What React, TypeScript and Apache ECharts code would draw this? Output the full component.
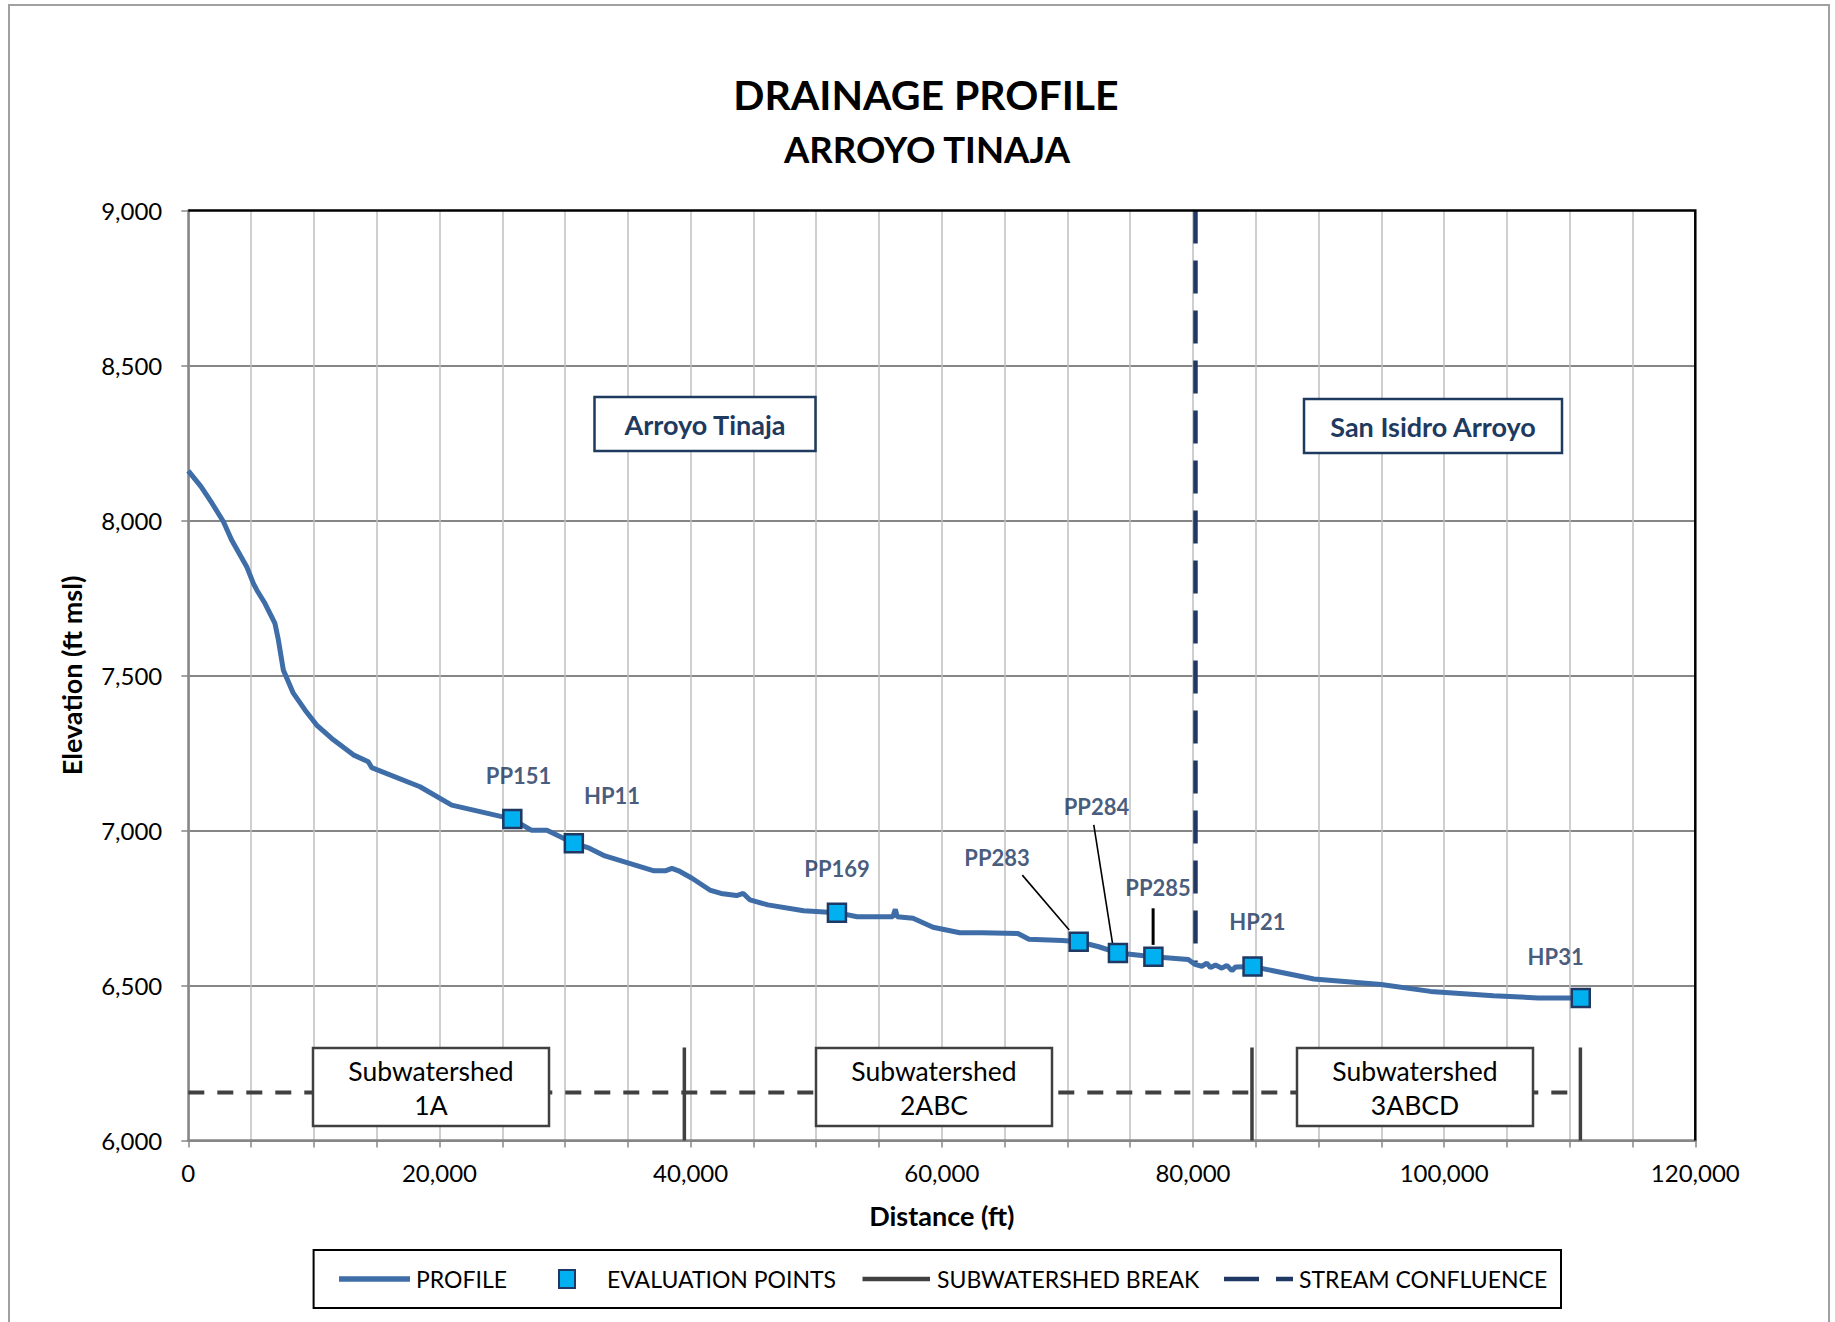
import React, { useEffect, useRef } from "react";
import * as echarts from "echarts";

// Profile (distance ft, elevation ft msl)
const profileDistance = [
  0, 1000, 1900, 2800, 3450, 4650, 5180, 5450, 6100, 6900, 7170, 7565, 8360, 9290, 10220, 11420,
  13140, 14330, 14600, 18450, 20975, 25800, 27310, 28555, 30700, 31930, 33175, 35130, 37085, 37975,
  38510, 39040, 40110, 41527, 42420, 43660, 44195, 44730, 46153, 48995, 51650, 53257, 56100, 56300,
  56450, 57710, 59300, 61435, 63200, 66060, 66945, 69612, 70900, 72500, 74025, 76850, 79630, 80165,
  80700, 81100, 81400, 81800, 82300, 82700, 83100, 83400, 84745, 89630, 94990, 98915, 103920, 107490,
  110880,
];
const profileElevation = [
  8160, 8110, 8055, 7996, 7937, 7851, 7797, 7776, 7733, 7668, 7615, 7518, 7443, 7389, 7340, 7297,
  7244, 7222, 7203, 7141, 7082, 7037, 7001, 7001, 6959, 6943, 6918, 6894, 6870, 6870,
  6878, 6870, 6846, 6808, 6797, 6790, 6797, 6776, 6760, 6741, 6735, 6722, 6722, 6746,
  6722, 6717, 6688, 6670, 6670, 6668, 6649, 6645, 6641, 6625, 6605, 6593, 6584, 6568,
  6562, 6572, 6558, 6566, 6556, 6565, 6548, 6560, 6561, 6521, 6503, 6481, 6467, 6460,
  6460,
];

// Evaluation points
const pointNames = ["PP151", "HP11", "PP169", "PP283", "PP284", "PP285", "HP21", "HP31"];
const pointDistance = [25800, 30700, 51650, 70900, 74025, 76850, 84745, 110880];
const pointElevation = [7037, 6959, 6735, 6641, 6605, 6593, 6561, 6460];

// Label anchor positions (data units)
const labelDistance = [26294, 33739, 51656, 64397, 72312, 77218, 85132, 108878];
const labelElevation = [7177, 7112, 6878, 6913, 7079, 6817, 6708, 6592];

// Leader lines [from distance, from elev, to distance, to elev]
const leaderLines = [
  [66411, 6856, 70144, 6679],
  [72101, 7018, 73595, 6636],
];
const leaderLineThick = [[76827, 6749, 76827, 6631]];

// Subwatershed breaks
const breakDistance = [39500, 84700, 110850];
const breakRange = [6000, 6300];
const subwatershedLine = { from: 0, to: 110000, elevation: 6155 };

// Stream confluence
const confluenceDistance = 80200;
const confluenceRange = [9000, 6575];

// Axes
const xMin = 0, xMax = 120000, xStep = 5000, xLabelStep = 20000;
const yMin = 6000, yMax = 9000, yStep = 500;

const legendNames = ["PROFILE", "EVALUATION POINTS", "SUBWATERSHED BREAK", "STREAM CONFLUENCE"];

const FONT = "Lato";
const NAVY = "#1F3A5F";
const LABEL_NAVY = "#17325A";
const PROFILE_COLOR = "#3E6DA8";

export default function App() {
  const ref = useRef<HTMLDivElement>(null);
  useEffect(() => {
    if (!ref.current) return;
    const chart = echarts.init(ref.current, undefined, { renderer: "svg" });

    const series: any[] = [];
    series.push({
      name: "subwatershed-line",
      type: "line",
      silent: true,
      symbol: "none",
      z: 2,
      data: [
        [subwatershedLine.from, subwatershedLine.elevation],
        [subwatershedLine.to, subwatershedLine.elevation],
      ],
      lineStyle: { color: "#404040", width: 4, type: [16, 13] },
    });
    breakDistance.forEach((d) => {
      series.push({
        name: "SUBWATERSHED BREAK",
        type: "line",
        silent: true,
        symbol: "none",
        z: 3,
        data: [
          [d, breakRange[0]],
          [d, breakRange[1]],
        ],
        lineStyle: { color: "#404040", width: 3.5 },
        itemStyle: { color: "#404040" },
      });
    });
    series.push({
      name: "STREAM CONFLUENCE",
      type: "line",
      silent: true,
      symbol: "none",
      z: 3,
      data: [
        [confluenceDistance, confluenceRange[0]],
        [confluenceDistance, confluenceRange[1]],
      ],
      lineStyle: { color: "#1F3864", width: 4.5, type: [33, 17] },
      itemStyle: { color: "#1F3864" },
    });
    series.push({
      name: "PROFILE",
      type: "line",
      silent: true,
      symbol: "none",
      z: 4,
      data: profileDistance.map((d, i) => [d, profileElevation[i]]),
      lineStyle: { color: PROFILE_COLOR, width: 5 },
      itemStyle: { color: PROFILE_COLOR },
    });
    leaderLines.forEach((l, i) => {
      series.push({
        name: "leader" + i,
        type: "line",
        silent: true,
        symbol: "none",
        z: 4,
        data: [
          [l[0], l[1]],
          [l[2], l[3]],
        ],
        lineStyle: { color: "#000", width: 1.6 },
      });
    });
    leaderLineThick.forEach((l, i) => {
      series.push({
        name: "leaderThick" + i,
        type: "line",
        silent: true,
        symbol: "none",
        z: 4,
        data: [
          [l[0], l[1]],
          [l[2], l[3]],
        ],
        lineStyle: { color: "#000", width: 3 },
      });
    });
    series.push({
      name: "EVALUATION POINTS",
      type: "scatter",
      silent: true,
      symbol: "rect",
      symbolSize: 18,
      z: 6,
      data: pointDistance.map((d, i) => [d, pointElevation[i]]),
      itemStyle: { color: "#00B0F0", borderColor: "#1F3864", borderWidth: 2.5, opacity: 1 },
    });
    series.push({
      name: "point-labels",
      type: "scatter",
      silent: true,
      symbolSize: 1,
      z: 7,
      itemStyle: { color: "rgba(0,0,0,0)" },
      data: labelDistance.map((d, i) => ({ value: [d, labelElevation[i]], name: pointNames[i] })),
      label: {
        show: true,
        position: "inside",
        formatter: (p: any) => p.name,
        color: LABEL_NAVY,
        fontFamily: FONT,
        fontWeight: "bold",
        fontSize: 22,
      },
    });

    const boxes = [
      { x: 313, y: 1048, w: 236, h: 78, text: "Subwatershed\n1A" },
      { x: 816, y: 1048, w: 236, h: 78, text: "Subwatershed\n2ABC" },
      { x: 1297, y: 1048, w: 236, h: 78, text: "Subwatershed\n3ABCD" },
    ];
    const riverBoxes = [
      { x: 594.5, y: 397, w: 221, h: 54, text: "Arroyo Tinaja" },
      { x: 1304, y: 399, w: 258, h: 54, text: "San Isidro Arroyo" },
    ];

    const graphic: any[] = [
      {
        type: "rect",
        z: 0,
        silent: true,
        shape: { x: 9, y: 5, width: 1820, height: 1340 },
        style: { fill: "none", stroke: "#A0A0A0", lineWidth: 2 },
      },
      {
        type: "text",
        z: 100,
        style: {
          text: "DRAINAGE PROFILE",
          x: 926,
          y: 94,
          textAlign: "center",
          textVerticalAlign: "middle",
          fontFamily: FONT,
          fontWeight: "bold",
          fontSize: 41,
          fill: "#000",
        },
      },
      {
        type: "text",
        z: 100,
        style: {
          text: "ARROYO TINAJA",
          x: 927,
          y: 149,
          textAlign: "center",
          textVerticalAlign: "middle",
          fontFamily: FONT,
          fontWeight: "bold",
          fontSize: 36.5,
          fill: "#000",
        },
      },
      // plot frame (top / right in black)
      {
        type: "polyline",
        z: 50,
        silent: true,
        shape: { points: [[188.3, 210.5], [1695.3, 210.5], [1695.3, 1140.5]] },
        style: { fill: "none", stroke: "#000", lineWidth: 2.5 },
      },
    ];
    boxes.forEach((b) => {
      graphic.push({
        type: "rect",
        z: 100,
        silent: true,
        shape: { x: b.x, y: b.y, width: b.w, height: b.h },
        style: { fill: "#fff", stroke: "#404040", lineWidth: 2.5 },
      });
      graphic.push({
        type: "text",
        z: 101,
        silent: true,
        style: {
          text: b.text,
          x: b.x + b.w / 2,
          y: b.y + b.h / 2 + 1,
          textAlign: "center",
          textVerticalAlign: "middle",
          fontFamily: FONT,
          fontSize: 26.5,
          lineHeight: 34,
          fill: "#000",
        },
      });
    });
    riverBoxes.forEach((b) => {
      graphic.push({
        type: "rect",
        z: 100,
        silent: true,
        shape: { x: b.x, y: b.y, width: b.w, height: b.h },
        style: { fill: "#fff", stroke: NAVY, lineWidth: 2.5 },
      });
      graphic.push({
        type: "text",
        z: 101,
        silent: true,
        style: {
          text: b.text,
          x: b.x + b.w / 2,
          y: b.y + b.h / 2,
          textAlign: "center",
          textVerticalAlign: "middle",
          fontFamily: FONT,
          fontWeight: "bold",
          fontSize: 27,
          fill: NAVY,
        },
      });
    });

    // Legend (drawn manually to reproduce the original icons)
    const legY = 1279;
    const legTextStyle = {
      fontFamily: FONT,
      fontSize: 23,
      fill: "#000",
      textVerticalAlign: "middle",
      textAlign: "left",
    };
    graphic.push({
      type: "rect",
      z: 100,
      silent: true,
      shape: { x: 313.6, y: 1250, width: 1247.4, height: 58 },
      style: { fill: "#fff", stroke: "#000", lineWidth: 2 },
    });
    graphic.push({
      type: "line",
      z: 101,
      silent: true,
      shape: { x1: 339, y1: legY, x2: 410, y2: legY },
      style: { stroke: PROFILE_COLOR, lineWidth: 5.5 },
    });
    graphic.push({ type: "text", z: 101, silent: true, style: { ...legTextStyle, text: legendNames[0], x: 416 }, y: legY });
    graphic.push({
      type: "rect",
      z: 101,
      silent: true,
      shape: { x: 559, y: legY - 9, width: 16, height: 18 },
      style: { fill: "#00B0F0", stroke: "#1F3864", lineWidth: 2 },
    });
    graphic.push({ type: "text", z: 101, silent: true, style: { ...legTextStyle, text: legendNames[1], x: 607 }, y: legY });
    graphic.push({
      type: "line",
      z: 101,
      silent: true,
      shape: { x1: 862.5, y1: legY, x2: 930, y2: legY },
      style: { stroke: "#404040", lineWidth: 4.5 },
    });
    graphic.push({ type: "text", z: 101, silent: true, style: { ...legTextStyle, text: legendNames[2], x: 937 }, y: legY });
    graphic.push({
      type: "line",
      z: 101,
      silent: true,
      shape: { x1: 1224, y1: legY, x2: 1293, y2: legY },
      style: { stroke: "#1F3864", lineWidth: 4.5, lineDash: [35, 17] },
    });
    graphic.push({ type: "text", z: 101, silent: true, style: { ...legTextStyle, text: legendNames[3], x: 1299 }, y: legY });

    const fmt = (v: number) => v.toLocaleString("en-US");

    chart.setOption({
      animation: false,
      backgroundColor: "#fff",
      textStyle: { fontFamily: FONT },
      grid: {
        left: 188.3,
        top: 210.5,
        width: 1507,
        height: 930,
        show: false,
      },
      xAxis: {
        type: "value",
        min: xMin,
        max: xMax,
        interval: xStep,
        name: "Distance (ft)",
        nameLocation: "middle",
        nameGap: 61,
        nameTextStyle: { fontFamily: FONT, fontWeight: "bold", fontSize: 27, color: "#000" },
        axisLine: { show: true, onZero: false, lineStyle: { color: "#868686", width: 2.5 } },
        axisTick: { show: true, length: 7, lineStyle: { color: "#868686", width: 1.5 } },
        axisLabel: {
          margin: 20,
          fontFamily: FONT,
          fontSize: 24,
          color: "#000",
          formatter: (v: number) => (v % xLabelStep === 0 ? fmt(v) : ""),
        },
        splitLine: { show: true, showMaxLine: false, lineStyle: { color: "#BFBFBF", width: 1.5 } },
      },
      yAxis: {
        type: "value",
        min: yMin,
        max: yMax,
        interval: yStep,
        name: "Elevation (ft msl)",
        nameLocation: "middle",
        nameGap: 103,
        nameTextStyle: { fontFamily: FONT, fontWeight: "bold", fontSize: 27, color: "#000" },
        axisLine: { show: true, onZero: false, lineStyle: { color: "#868686", width: 2.5 } },
        axisTick: { show: true, length: 7, lineStyle: { color: "#868686", width: 1.5 } },
        axisLabel: { margin: 26, fontFamily: FONT, fontSize: 24, color: "#000", formatter: fmt },
        splitLine: { show: true, showMaxLine: false, lineStyle: { color: "#868686", width: 2 } },
      },
      series,
      graphic,
    });

    return () => chart.dispose();
  }, []);

  return (
    <div
      ref={ref}
      style={{ position: "absolute", left: 0, top: 0, width: 1835, height: 1322, background: "#fff" }}
    />
  );
}
